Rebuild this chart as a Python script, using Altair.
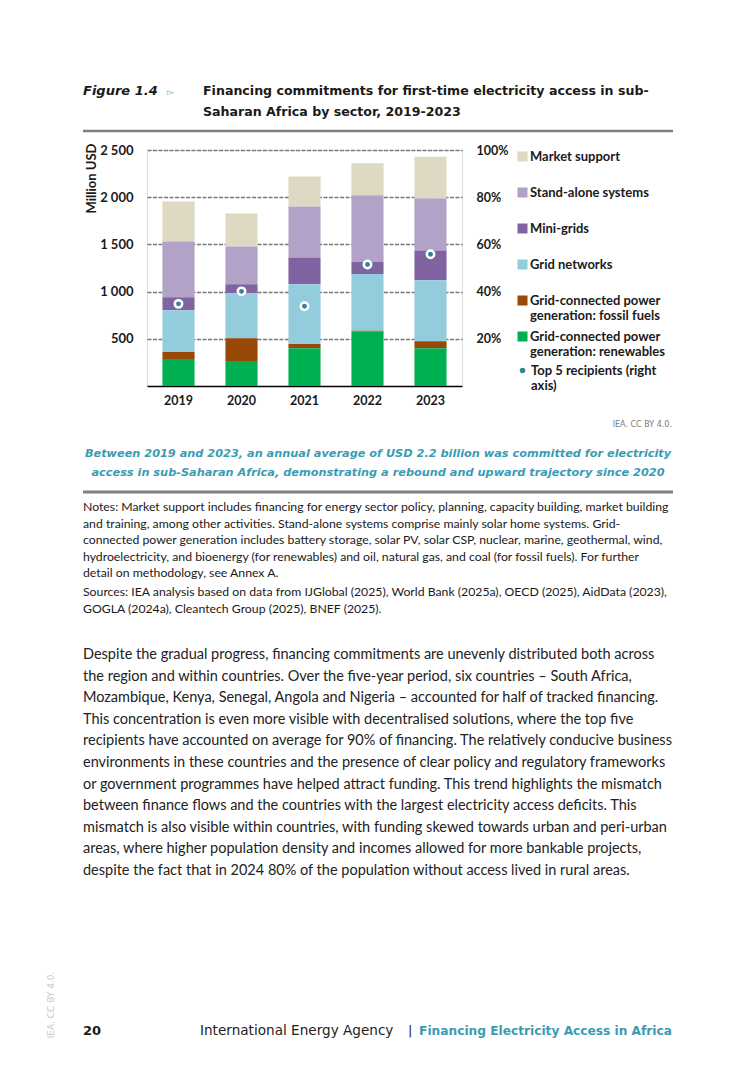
import altair as alt
import pandas as pd

# ---------------- data ----------------
years = ["2019", "2020", "2021", "2022", "2023"]
sectors = [
    "Market support",
    "Stand-alone systems",
    "Mini-grids",
    "Grid networks",
    "Grid-connected power generation: fossil fuels",
    "Grid-connected power generation: renewables",
]
sector_colors = ["#ddd9c3", "#b3a2c7", "#8064a2", "#93cddd", "#984807", "#00b050"]
renewables = [285, 264, 401, 581, 401]
fossil = [74, 243, 43, 4, 74]
grid_networks = [444, 475, 633, 602, 644]
mini_grids = [137, 95, 285, 126, 317]
stand_alone = [591, 401, 539, 708, 549]
market_support = [423, 349, 317, 338, 444]
top5_share = [0.348, 0.401, 0.338, 0.515, 0.558]
top5_label = "Top 5 recipients (right axis)"

y_ticks = [500, 1000, 1500, 2000, 2500]
pct_ticks = [0.2, 0.4, 0.6, 0.8, 1.0]

figure_label = "Figure 1.4"
title_lines = [
    "Financing commitments for first-time electricity access in sub-",
    "Saharan Africa by sector, 2019-2023",
]
credit = "IEA. CC BY 4.0."
caption_lines = [
    "Between 2019 and 2023, an annual average of USD 2.2 billion was committed for electricity",
    "access in sub-Saharan Africa, demonstrating a rebound and upward trajectory since 2020",
]
notes_lines = [
    "Notes: Market support includes financing for energy sector policy, planning, capacity building, market building",
    "and training, among other activities. Stand-alone systems comprise mainly solar home systems. Grid-",
    "connected power generation includes battery storage, solar PV, solar CSP, nuclear, marine, geothermal, wind,",
    "hydroelectricity, and bioenergy (for renewables) and oil, natural gas, and coal (for fossil fuels). For further",
    "detail on methodology, see Annex A.",
]
sources_lines = [
    "Sources: IEA analysis based on data from IJGlobal (2025), World Bank (2025a), OECD (2025), AidData (2023),",
    "GOGLA (2024a), Cleantech Group (2025), BNEF (2025).",
]
body_lines = [
    "Despite the gradual progress, financing commitments are unevenly distributed both across",
    "the region and within countries. Over the five-year period, six countries \u2013 South Africa,",
    "Mozambique, Kenya, Senegal, Angola and Nigeria \u2013 accounted for half of tracked financing.",
    "This concentration is even more visible with decentralised solutions, where the top five",
    "recipients have accounted on average for 90% of financing. The relatively conducive business",
    "environments in these countries and the presence of clear policy and regulatory frameworks",
    "or government programmes have helped attract funding. This trend highlights the mismatch",
    "between finance flows and the countries with the largest electricity access deficits. This",
    "mismatch is also visible within countries, with funding skewed towards urban and peri-urban",
    "areas, where higher population density and incomes allowed for more bankable projects,",
    "despite the fact that in 2024 80% of the population without access lived in rural areas.",
]
page_number = "20"
footer_left = "International Energy Agency"
footer_right = "Financing Electricity Access in Africa"

# ---------------- tables ----------------
series = [market_support, stand_alone, mini_grids, grid_networks, fossil, renewables]
rows = []
for si, (name, vals) in enumerate(zip(sectors, series)):
    for yi, yr in enumerate(years):
        rows.append({"year": yr, "sector": name, "value": vals[yi], "stack": len(sectors) - si})
bars_df = pd.DataFrame(rows)
pts_df = pd.DataFrame({"year": years, "share": top5_share, "series": [top5_label] * len(years)})

# ---------------- styling ----------------
DARK = "#1a1a1a"
TEAL = "#31849b"
TEAL_TXT = "#3a9bb3"
SANS = "Lato"
GEO = "DejaVu Sans"
W, H = 315, 236
OX, OY = 147, 150  # page position of plot origin

label_expr_sector = (
    "datum.label == 'Grid-connected power generation: fossil fuels' ? "
    "['Grid-connected power', 'generation: fossil fuels'] : "
    "datum.label == 'Grid-connected power generation: renewables' ? "
    "['Grid-connected power', 'generation: renewables'] : datum.label"
)

bars = alt.Chart(bars_df).mark_bar().encode(
    x=alt.X(
        "year:N",
        sort=years,
        scale=alt.Scale(paddingInner=0.49, paddingOuter=0.245),
        axis=alt.Axis(
            title=None, labelAngle=0, ticks=False, domain=True, domainColor="#000000",
            domainWidth=1.5, labelPadding=8, labelFont=SANS, labelFontSize=12.5,
            labelFontWeight="bold", labelColor=DARK, grid=False,
        ),
    ),
    y=alt.Y(
        "value:Q",
        stack="zero",
        scale=alt.Scale(domain=[0, 2500], nice=False),
        axis=alt.Axis(
            values=y_ticks,
            labelExpr="replace(format(datum.value, ','), ',', ' ')",
            grid=True, gridDash=[4, 1.5], gridColor="#7a7a7a", gridWidth=1.5,
            domain=False, ticks=False, labelPadding=14, labelFont=SANS,
            labelFontSize=13, labelFontWeight="bold", labelColor=DARK,
            title="Million USD", titleFont=SANS, titleFontSize=13,
            titleFontWeight="bold", titleColor=DARK, titleX=91 - OX, titleY=143 - OY,
            titleAlign="right", titleBaseline="middle", titleAngle=270,
        ),
    ),
    color=alt.Color(
        "sector:N",
        scale=alt.Scale(domain=sectors, range=sector_colors),
        legend=alt.Legend(
            title=None, orient="none", legendX=516 - OX, legendY=150 - OY,
            symbolType="square", symbolSize=100, symbolStrokeWidth=0,
            labelFont=SANS, labelFontSize=13, labelFontWeight="bold",
            labelColor=DARK, labelLimit=300, labelOffset=1, rowPadding=7,
            gridAlign="all", labelExpr=label_expr_sector,
        ),
    ),
    order=alt.Order("stack:Q", sort="ascending"),
)

points = alt.Chart(pts_df).mark_point(
    filled=True, fill=TEAL, stroke="white", strokeWidth=2.5, size=55, opacity=1
).encode(
    x=alt.X("year:N", sort=years),
    y=alt.Y(
        "share:Q",
        scale=alt.Scale(domain=[0, 1], nice=False),
        axis=alt.Axis(
            orient="right", values=pct_ticks, format=".0%", grid=False,
            domain=False, ticks=False, labelPadding=14, labelFont=SANS,
            labelFontSize=12.5, labelFontWeight="bold", labelColor=DARK, title=None,
        ),
    ),
    shape=alt.Shape(
        "series:N",
        scale=alt.Scale(domain=[top5_label], range=["circle"]),
        legend=alt.Legend(
            title=None, orient="none", legendX=516 - OX, legendY=364 - OY,
            symbolSize=30, symbolStrokeWidth=0, symbolFillColor=TEAL,
            labelFont=SANS, labelFontSize=13, labelFontWeight="bold",
            labelColor=DARK, labelLimit=300, labelOffset=2,
            labelExpr="['Top 5 recipients (right', 'axis)']",
        ),
    ),
)

one = pd.DataFrame({"k": [0]})


def text_block(lines, px, py, size, weight="normal", style="normal", color=DARK,
               font=SANS, align="left", lh=None, angle=0, baseline="middle"):
    props = dict(align=align, baseline=baseline, font=font, fontSize=size,
                 fontWeight=weight, fontStyle=style, color=color)
    if lh is not None:
        props["lineHeight"] = lh
    if angle:
        props["angle"] = angle
    return alt.Chart(one).mark_text(**props).encode(
        x=alt.value(px - OX), y=alt.value(py - OY), text=alt.value(lines)
    )


def hrule(py, width, color="#808080"):
    return alt.Chart(one).mark_rule(color=color, strokeWidth=width).encode(
        x=alt.value(83 - OX), x2=alt.value(673 - OX), y=alt.value(py - OY)
    )


texts = [
    text_block(figure_label, 83, 91, 13, weight="bold", style="italic", font=GEO),
    text_block("\u25bb", 167, 92, 9, color="#5aaec0", font=GEO),
    text_block(title_lines, 203, 91, 12.6, weight="bold", font=GEO, lh=20.5),
    hrule(131, 2.5),
    text_block(credit, 672, 425, 8, color="#7a7a7a", font=GEO, align="right"),
    text_block(caption_lines, 378, 454, 11.3, weight="bold", style="italic",
               color=TEAL_TXT, font=GEO, align="center", lh=19),
    hrule(492, 3),
    text_block(notes_lines, 83, 507, 12.25, lh=16.6),
    text_block(sources_lines, 83, 592, 12.25, lh=17),
    text_block(body_lines, 83, 655, 14.5, color="#222222", lh=21.6),
    text_block(page_number, 83, 1031, 13, weight="bold", font=GEO),
    text_block(footer_left, 200, 1031, 13.6, font=GEO, color="#222222"),
    text_block("|", 408, 1031, 13, font=GEO, color="#222222"),
    text_block(footer_right, 672, 1031, 12.2, weight="bold", font=GEO,
               color=TEAL_TXT, align="right"),
    text_block(credit, 51, 1005, 9, color="#c8c8c8", font=GEO, align="center", angle=270),
]

chart = alt.layer(bars, points, *texts).resolve_scale(y="independent").properties(
    width=W,
    height=H,
    padding={"left": OX - 8, "top": OY - 8, "right": 740 - (OX - 8) - W,
             "bottom": 1071 - (OY - 8) - H},
    autosize=alt.AutoSizeParams(type="none"),
).configure_view(stroke=None).configure(background="white")

chart.save("out.html", embed_options={"renderer": "svg", "actions": False})
